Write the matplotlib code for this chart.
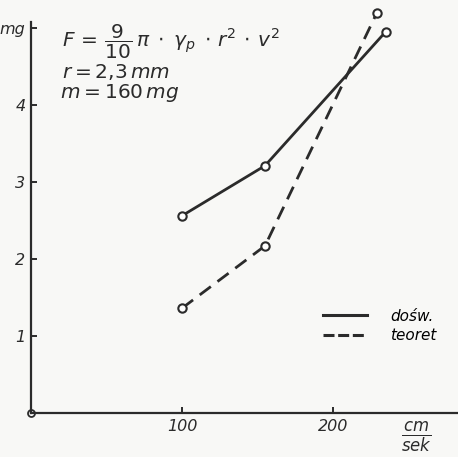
import numpy as np
import matplotlib.pyplot as plt
from matplotlib.lines import Line2D

# values
v_dosw = [100, 155, 235]
f_dosw = [2.56, 3.21, 4.95]
v_teoret = [100, 155, 229]
f_teoret = [1.36, 2.17, 5.19]
y_ticks = [1, 2, 3, 4, 5]
y_labels = ["1", "2", "3", "4", "mg"]
x_ticks = [100, 200]

ink = "#2b2b2b"
fig = plt.figure(figsize=(4.58, 4.57), dpi=100, facecolor="#f8f8f6")
ax = fig.add_axes([0, 0, 1, 1], facecolor="#f8f8f6")
ax.set_xlim(-20.5, 282.8)
ax.set_ylim(-0.57, 5.36)

# axes drawn like the hand-made original
for s in ["top", "right"]:
    ax.spines[s].set_visible(False)
ax.spines["left"].set_position(("data", 0))
ax.spines["bottom"].set_position(("data", 0))
ax.spines["left"].set_bounds(0, 5.08)
ax.spines["bottom"].set_bounds(0, 282)
for s in ["left", "bottom"]:
    ax.spines[s].set_color(ink)
    ax.spines[s].set_linewidth(1.6)

ax.set_yticks(y_ticks)
ax.set_yticklabels(y_labels, fontsize=11.5, style="italic", color=ink)
ax.set_xticks(x_ticks)
ax.set_xticklabels([str(t) for t in x_ticks], fontsize=11.5, style="italic", color=ink)
ax.tick_params(direction="in", length=4, width=1.4, color=ink, pad=4)
ax.plot([0], [0], "o", ms=5, mfc="white", mec=ink, mew=1.3, clip_on=False)

ax.plot(v_dosw, f_dosw, "-o", color=ink, lw=2.0, ms=6, mfc="white", mew=1.5)
ax.plot(v_teoret, f_teoret, "--o", color=ink, lw=2.0, ms=6, mfc="white", mew=1.5,
        dashes=(5, 3))

handles = [Line2D([], [], color=ink, lw=2.2),
           Line2D([], [], color=ink, lw=2.2, ls="--", dashes=(3.6, 1.2))]
ax.legend(handles, ["dośw.", "teoret"], loc="upper left", bbox_to_anchor=(0.675, 0.355),
          frameon=False, handlelength=2.9, handletextpad=1.5, labelspacing=0.3,
          prop={"style": "italic", "size": 11})

fs = 14.5
ax.text(20.5, 4.82,
        r"$F\,=\,\dfrac{9}{10}\,\pi\;\cdot\;\gamma_p\;\cdot\,r^2\,\cdot\,v^2$",
        fontsize=fs, color=ink, va="center")
ax.text(20.5, 4.43, r"$r=2{,}3\,mm$", fontsize=fs, color=ink, va="center")
ax.text(19, 4.15, r"$m=160\,mg$", fontsize=fs, color=ink, va="center")
ax.text(255, -0.3, r"$\frac{cm}{sek}$", fontsize=17, color=ink, va="center", ha="center")

fig.savefig("out.png", dpi=100, facecolor=fig.get_facecolor())
